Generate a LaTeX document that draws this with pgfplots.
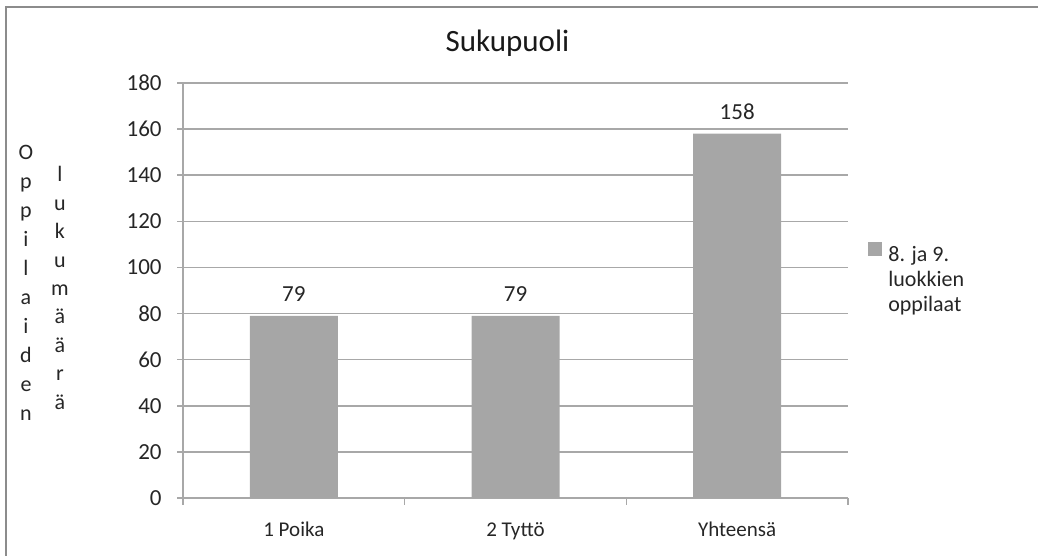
\documentclass[border=0pt]{standalone}
\usepackage{pgfplots}
\pgfplotsset{compat=1.18}
\usepackage{fontspec}
\setmainfont{Carlito}
\definecolor{barc}{HTML}{A6A6A6}
\definecolor{linec}{HTML}{A8A8A8}
\definecolor{framec}{HTML}{8C8C8C}
\begin{document}
\begin{tikzpicture}
\useasboundingbox (0,0) rectangle (519pt,278pt);
\draw[framec, line width=1.2pt] (3pt,-2pt) -- (3pt,274.5pt) -- (521pt,274.5pt);
\node[anchor=base, inner sep=0pt, font=\fontsize{15.5}{18}\selectfont, text=black!90] at (253.75pt,252pt) {Sukupuoli};
\node[anchor=base, inner sep=0pt, font=\fontsize{11}{14.45}\selectfont, text=black!85] at (13pt,198pt)
  {\begin{tabular}[t]{@{}c@{}}O\\p\\p\\i\\l\\a\\i\\d\\e\\n\end{tabular}};
\node[anchor=base, inner sep=0pt, font=\fontsize{11}{14.2}\selectfont, text=black!85] at (30pt,187pt)
  {\begin{tabular}[t]{@{}c@{}}l\\u\\k\\u\\m\\ä\\ä\\r\\ä\end{tabular}};
\begin{axis}[
  at={(91.5pt,29pt)}, anchor=south west,
  scale only axis, width=332.5pt, height=207.5pt,
  xmin=-0.5, xmax=2.5, ymin=0, ymax=180,
  ybar, bar width=44pt,
  axis x line*=bottom, axis y line*=left,
  axis line style={linec, line width=0.8pt, -},
  ytick={0,20,...,180},
  ymajorgrids, grid style={linec, line width=0.8pt},
  xtick={0,1,2}, xticklabels={1 Poika, 2 Tyttö, Yhteensä},
  minor xtick={-0.5,0.5,1.5,2.5},
  major x tick style={draw=none},
  minor x tick style={linec, line width=0.8pt},
  y tick style={linec, line width=0.8pt},
  tick align=outside, major tick length=3pt, minor tick length=3.5pt,
  /pgf/number format/assume math mode=true,
  yticklabel style={font=\fontsize{11.5}{13}\selectfont, anchor=east, inner sep=0pt, xshift=-7.5pt},
  xticklabel style={font=\fontsize{10.5}{12}\selectfont, anchor=base, inner sep=0pt, yshift=-16.5pt},
  nodes near coords,
  nodes near coords style={font=\fontsize{11.5}{13}\selectfont, inner sep=0pt, anchor=south, yshift=7pt, text=black!85},
  legend style={at={(1.03,0.617)}, anchor=north west, draw=none, fill=none, inner sep=0pt,
    font=\fontsize{11}{12.5}\selectfont, nodes={inner sep=0pt, text=black!85},
    /tikz/every odd column/.append style={column sep=3pt}},
  legend cell align=left,
  tick label style={text=black!85},
]
\addplot[fill=barc, draw=none, legend image code/.code={\fill[barc] (0pt,-0.8pt) rectangle (7pt,6.2pt);}]
  coordinates {(0,79) (1,79) (2,158)};
\legend{{\begin{tabular}[t]{@{}l@{}}8. ja 9.\\luokkien\\oppilaat\end{tabular}}}
\end{axis}
\end{tikzpicture}
\end{document}
